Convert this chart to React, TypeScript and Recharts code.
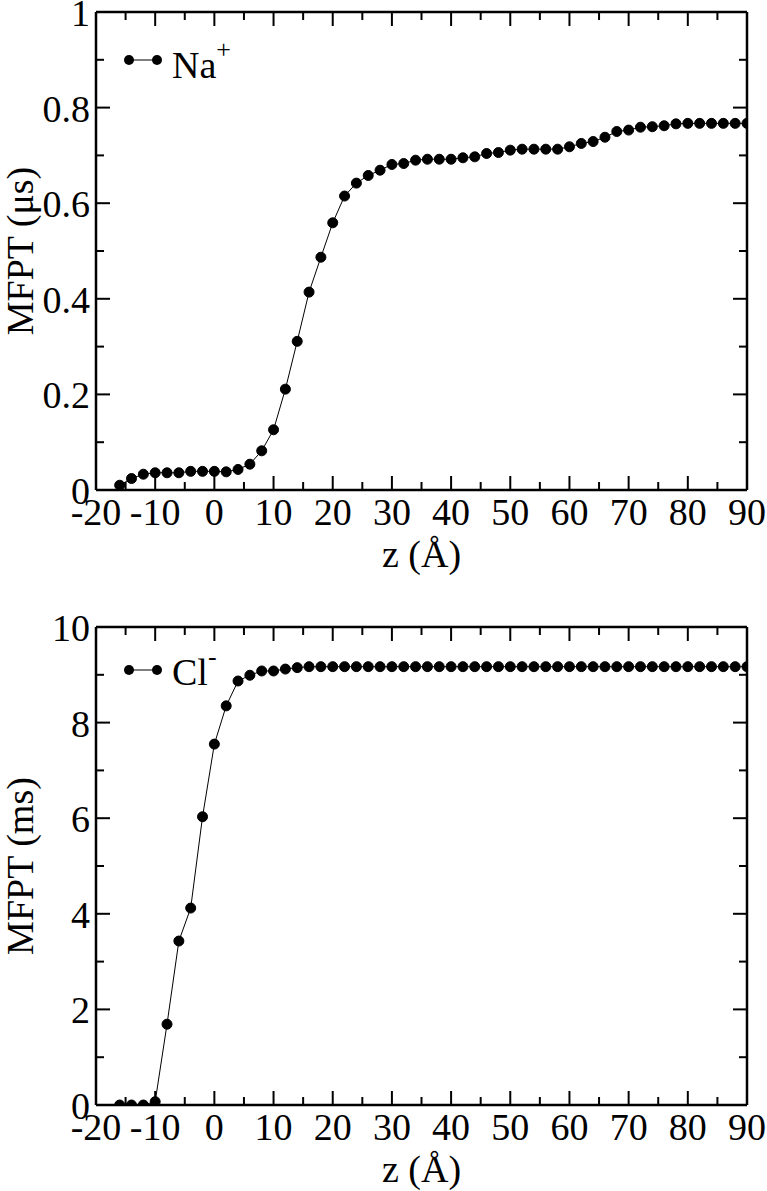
import { Legend, Line, LineChart, ReferenceLine, XAxis, YAxis } from "recharts";

// z positions (Å) shared by both panels
const zValues = [
  -16, -14, -12, -10, -8, -6, -4, -2, 0, 2, 4, 6, 8, 10, 12, 14, 16, 18, 20, 22,
  24, 26, 28, 30, 32, 34, 36, 38, 40, 42, 44, 46, 48, 50, 52, 54, 56, 58, 60, 62,
  64, 66, 68, 70, 72, 74, 76, 78, 80, 82, 84, 86, 88, 90,
];

// Na+ MFPT (µs)
const naMfpt = [
  0.01, 0.024, 0.033, 0.036, 0.036, 0.036, 0.039, 0.039, 0.039, 0.038, 0.043,
  0.054, 0.082, 0.126, 0.211, 0.311, 0.414, 0.487, 0.559, 0.615, 0.642, 0.658,
  0.669, 0.681, 0.683, 0.69, 0.692, 0.692, 0.692, 0.695, 0.697, 0.704, 0.706,
  0.711, 0.713, 0.713, 0.713, 0.713, 0.718, 0.725, 0.729, 0.738, 0.75, 0.753,
  0.759, 0.76, 0.762, 0.766, 0.767, 0.767, 0.767, 0.767, 0.767, 0.767,
];

// Cl- MFPT (ms)
const clMfpt = [
  0, 0, 0, 0.07, 1.69, 3.43, 4.12, 6.03, 7.55, 8.35, 8.87, 8.99, 9.08, 9.08,
  9.12, 9.15, 9.17, 9.17, 9.17, 9.17, 9.17, 9.17, 9.17, 9.17, 9.17, 9.17, 9.17,
  9.17, 9.17, 9.17, 9.17, 9.17, 9.17, 9.17, 9.17, 9.17, 9.17, 9.17, 9.17, 9.17,
  9.17, 9.17, 9.17, 9.17, 9.17, 9.17, 9.17, 9.17, 9.17, 9.17, 9.17, 9.17, 9.17,
  9.17,
];

const xTicks = [-20, -15, -10, -5, 0, 5, 10, 15, 20, 25, 30, 35, 40, 45, 50, 55, 60, 65, 70, 75, 80, 85, 90];
const naYTicks = [0, 0.1, 0.2, 0.3, 0.4, 0.5, 0.6, 0.7, 0.8, 0.9, 1];
const naYLabels = ["0", "0.2", "0.4", "0.6", "0.8", "1"];
const clYTicks = [0, 1, 2, 3, 4, 5, 6, 7, 8, 9, 10];
const clYLabels = ["0", "2", "4", "6", "8", "10"];

const FONT = '"Liberation Serif", "Times New Roman", serif';
const FS = 38;
const MAJOR = 14;
const MINOR = 8;
const W = 767;
const H = 576;
const PLOT_W = 651;
const PLOT_H = 478;
// axes are 1px thick, so the plot area is 96..747 x 12..490
const MARGIN = { top: 12, right: 20, bottom: 85, left: 95 };
const PLOT_MID_Y = 12 + PLOT_H / 2;
const FRAME = { stroke: "#000", strokeWidth: 2.5 };

// bottom tick + mirrored tick on the top edge
function BottomTick({ x, y, payload }: any) {
  const major = payload.value % 10 === 0;
  const len = major ? MAJOR : MINOR;
  return (
    <g>
      <line x1={x} x2={x} y1={y} y2={y - len} stroke="#000" strokeWidth={2} />
      <line x1={x} x2={x} y1={y - PLOT_H} y2={y - PLOT_H + len} stroke="#000" strokeWidth={2} />
      {major && (
        <text x={x} y={y + 35} textAnchor="middle" fontFamily={FONT} fontSize={FS} fill="#000">
          {payload.value}
        </text>
      )}
    </g>
  );
}

// left tick + mirrored tick on the right edge
function makeLeftTick(labels: string[]) {
  return ({ x, y, payload }: any) => {
    const label = labels.find((l) => Number(l) === payload.value);
    const len = label ? MAJOR : MINOR;
    return (
      <g>
        <line x1={x} x2={x + len} y1={y} y2={y} stroke="#000" strokeWidth={2} />
        <line x1={x + PLOT_W} x2={x + PLOT_W - len} y1={y} y2={y} stroke="#000" strokeWidth={2} />
        {label && (
          <text x={x - 6} y={y + 14} textAnchor="end" fontFamily={FONT} fontSize={FS} fill="#000">
            {label}
          </text>
        )}
      </g>
    );
  };
}

function LegendBox({ name, sup, symbolY, textY }: { name: string; sup: string; symbolY: number; textY: number }) {
  return (
    <svg width={110} height={50} style={{ display: "block", overflow: "visible" }}>
      <line x1={11} x2={39} y1={symbolY} y2={symbolY} stroke="#000" strokeWidth={1} />
      <circle cx={11} cy={symbolY} r={5} fill="#000" />
      <circle cx={39} cy={symbolY} r={5} fill="#000" />
      <text x={54} y={textY} fontFamily={FONT} fontSize={FS} fill="#000">
        {name}
        <tspan dy={-20} fontSize={26}>
          {sup}
        </tspan>
      </text>
    </svg>
  );
}

function AxisTitles({ yTitle }: { yTitle: string }) {
  const cx = 33;
  return (
    <svg
      width={W}
      height={H}
      style={{ position: "absolute", left: 0, top: 0, pointerEvents: "none", overflow: "visible" }}
    >
      <text
        x={cx}
        y={PLOT_MID_Y}
        transform={`rotate(-90, ${cx}, ${PLOT_MID_Y})`}
        textAnchor="middle"
        fontFamily={FONT}
        fontSize={FS}
        fill="#000"
      >
        {yTitle}
      </text>
      <text x={96 + PLOT_W / 2} y={12 + PLOT_H + 77} textAnchor="middle" fontFamily={FONT} fontSize={FS} fill="#000">
        z (Å)
      </text>
    </svg>
  );
}

function Panel({
  values,
  domain,
  yTicks,
  yLabels,
  ion,
  sup,
  legendTop,
  symbolY,
  textY,
}: {
  values: number[];
  domain: [number, number];
  yTicks: number[];
  yLabels: string[];
  ion: string;
  sup: string;
  legendTop: number;
  symbolY: number;
  textY: number;
}) {
  const data = zValues.map((z, i) => ({ z, mfpt: values[i] }));
  return (
    <LineChart width={W} height={H} data={data} margin={MARGIN}>
      <XAxis
        dataKey="z"
        type="number"
        domain={[-20, 90]}
        ticks={xTicks}
        interval={0}
        allowDataOverflow
        height={1}
        tickSize={0}
        tickMargin={0}
        tickLine={false}
        axisLine={FRAME}
        tick={BottomTick}
      />
      <YAxis
        type="number"
        domain={domain}
        ticks={yTicks}
        interval={0}
        allowDataOverflow
        width={1}
        tickSize={0}
        tickMargin={0}
        tickLine={false}
        axisLine={FRAME}
        tick={makeLeftTick(yLabels)}
      />
      <ReferenceLine y={domain[1]} {...FRAME} />
      <ReferenceLine x={90} {...FRAME} />
      <Legend
        layout="vertical"
        align="center"
        verticalAlign="middle"
        wrapperStyle={{ left: 118, top: legendTop, width: 110 }}
        content={() => <LegendBox name={ion} sup={sup} symbolY={symbolY} textY={textY} />}
      />
      <Line
        type="linear"
        dataKey="mfpt"
        name={ion}
        stroke="#000"
        strokeWidth={1}
        dot={{ r: 5, fill: "#000", stroke: "#000", strokeWidth: 1 }}
        isAnimationActive={false}
      />
    </LineChart>
  );
}

export default function App() {
  return (
    <div
      style={{
        position: "absolute",
        left: 0,
        top: 0,
        width: W,
        height: 1191,
        overflow: "hidden",
        background: "#fff",
      }}
    >
      <div style={{ position: "absolute", left: 0, top: 0, width: W, height: H }}>
        <Panel
          values={naMfpt}
          domain={[0, 1]}
          yTicks={naYTicks}
          yLabels={naYLabels}
          ion="Na"
          sup="+"
          legendTop={38}
          symbolY={22}
          textY={40}
        />
        <AxisTitles yTitle="MFPT (μs)" />
      </div>
      <div style={{ position: "absolute", left: 0, top: 615, width: W, height: H }}>
        <Panel
          values={clMfpt}
          domain={[0, 10]}
          yTicks={clYTicks}
          yLabels={clYLabels}
          ion="Cl"
          sup="-"
          legendTop={33}
          symbolY={22}
          textY={37}
        />
        <AxisTitles yTitle="MFPT (ms)" />
      </div>
    </div>
  );
}
